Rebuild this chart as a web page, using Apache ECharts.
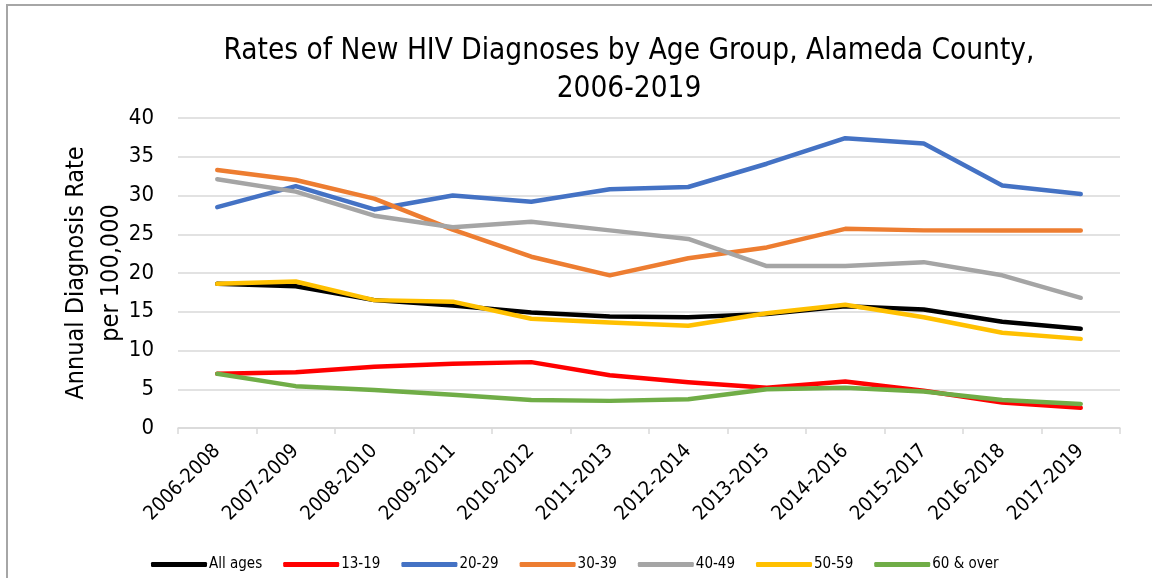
<!DOCTYPE html>
<html>
<head>
<meta charset="utf-8">
<script src="https://cdn.jsdelivr.net/npm/echarts@6/dist/echarts.min.js"></script>
<style>
html,body{margin:0;padding:0;background:#fff;}
#chart{width:1152px;height:578px;}
</style>
</head>
<body>
<div id="chart"></div>
<script>
const categories = ['2006-2008','2007-2009','2008-2010','2009-2011','2010-2012','2011-2013','2012-2014','2013-2015','2014-2016','2015-2017','2016-2018','2017-2019'];
const allAges = [18.6, 18.3, 16.5, 15.8, 14.9, 14.4, 14.3, 14.7, 15.7, 15.3, 13.7, 12.8];
const age13_19 = [7.0, 7.2, 7.9, 8.3, 8.5, 6.8, 5.9, 5.2, 6.0, 4.8, 3.3, 2.6];
const age20_29 = [28.5, 31.2, 28.2, 30.0, 29.2, 30.8, 31.1, 34.1, 37.4, 36.7, 31.3, 30.2];
const age30_39 = [33.3, 32.0, 29.6, 25.6, 22.1, 19.7, 21.9, 23.3, 25.7, 25.5, 25.5, 25.5];
const age40_49 = [32.1, 30.5, 27.4, 25.9, 26.6, 25.5, 24.4, 20.9, 20.9, 21.4, 19.7, 16.8];
const age50_59 = [18.6, 18.9, 16.5, 16.3, 14.1, 13.6, 13.2, 14.8, 15.9, 14.3, 12.3, 11.5];
const age60Over = [7.0, 5.4, 4.9, 4.3, 3.6, 3.5, 3.7, 5.0, 5.2, 4.7, 3.6, 3.1];
const yTicks = [0, 5, 10, 15, 20, 25, 30, 35, 40];

const FONT = '"DejaVu Sans Condensed", "DejaVu Sans", sans-serif';
const seriesDefs = [
  ['All ages', allAges, '#000000'],
  ['13-19', age13_19, '#ff0000'],
  ['20-29', age20_29, '#4472c4'],
  ['30-39', age30_39, '#ed7d31'],
  ['40-49', age40_49, '#a5a5a5'],
  ['50-59', age50_59, '#ffc000'],
  ['60 & over', age60Over, '#70ad47']
];

const chart = echarts.init(document.getElementById('chart'));
chart.setOption({
  animation: false,
  textStyle: { fontFamily: FONT },
  graphic: [{
    type: 'polyline',
    shape: { points: [[7, 600], [7, 5], [1160, 5]] },
    style: { stroke: '#a6a6a6', lineWidth: 2, fill: null },
    silent: true
  }],
  title: {
    text: 'Rates of New HIV Diagnoses by Age Group, Alameda County,\n2006-2019',
    left: 624, top: 27, textAlign: 'center',
    textStyle: { fontFamily: FONT, fontSize: 29.5, fontWeight: 'normal', color: '#000', lineHeight: 38 }
  },
  legend: {
    top: 552, left: 146,
    icon: 'roundRect', itemWidth: 56, itemHeight: 5, itemGap: 21,
    textStyle: { fontFamily: FONT, fontSize: 15, color: '#000', padding: [0,0,0,-3] },
    data: seriesDefs.map(s => s[0])
  },
  grid: { left: 178, right: 32, top: 118, bottom: 150 },
  xAxis: {
    type: 'category', data: categories, boundaryGap: true,
    axisLine: { lineStyle: { color: '#d9d9d9', width: 1.5 } },
    axisTick: { show: true, length: 6, lineStyle: { color: '#d9d9d9', width: 1.5 } },
    axisLabel: { rotate: 45, fontFamily: FONT, fontSize: 20, color: '#000', margin: 20 }
  },
  yAxis: {
    type: 'value', min: 0, max: 40, interval: 5,
    name: 'Annual Diagnosis Rate\nper 100,000', nameLocation: 'middle', nameGap: 49,
    nameMoveOverlap: false,
    nameTextStyle: { fontFamily: FONT, fontSize: 25, color: '#000', lineHeight: 35 },
    axisLine: { show: false }, axisTick: { show: false },
    axisLabel: { fontFamily: FONT, fontSize: 22, color: '#000', margin: 24,
      formatter: v => yTicks.includes(v) ? String(v) : '' },
    splitLine: { lineStyle: { color: '#d9d9d9', width: 1.5 } }
  },
  series: seriesDefs.map(([name, data, color]) => ({
    name, type: 'line', data, color,
    symbol: 'none', smooth: false,
    lineStyle: { width: 4.5, color, cap: 'round', join: 'round' }
  }))
});
</script>
</body>
</html>
